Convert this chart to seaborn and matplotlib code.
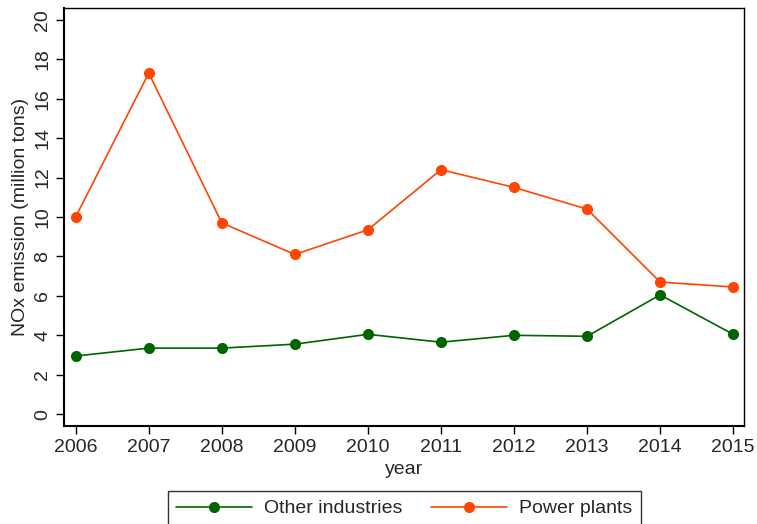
import matplotlib
matplotlib.use("Agg")
import matplotlib.pyplot as plt
import seaborn as sns
import pandas as pd

years = [2006, 2007, 2008, 2009, 2010, 2011, 2012, 2013, 2014, 2015]
other_industries = [2.95, 3.35, 3.35, 3.55, 4.05, 3.65, 4.0, 3.95, 6.05, 4.05]
power_plants = [10.0, 17.3, 9.7, 8.1, 9.35, 12.4, 11.5, 10.4, 6.7, 6.45]
series_names = ["Other industries", "Power plants"]
series_colors = ["#006400", "#ff4500"]
y_ticks = [0, 2, 4, 6, 8, 10, 12, 14, 16, 18, 20]

df = pd.DataFrame({
    "year": years * 2,
    "emission": other_industries + power_plants,
    "source": [series_names[0]] * len(years) + [series_names[1]] * len(years),
})

sns.set_theme(style="white")
plt.rcParams["font.family"] = ["Liberation Sans", "DejaVu Sans"]

FS = 14

fig = plt.figure(figsize=(7.57, 5.24), dpi=100)
ax = fig.add_axes([0.0845, 0.187, 0.8985, 0.7978])

sns.lineplot(
    data=df, x="year", y="emission", hue="source",
    palette=dict(zip(series_names, series_colors)),
    marker="o", markersize=8, markeredgewidth=0,
    linewidth=1.2, ax=ax, legend=False,
)

ax.set_xlim(2005.84, 2015.15)
ax.set_ylim(-0.6, 20.6)
ax.set_xticks(years)
ax.set_xticklabels([str(y) for y in years], fontsize=FS)
ax.set_yticks(y_ticks)
ax.set_yticklabels([str(t) for t in y_ticks], fontsize=FS, rotation=90, va="center")
ax.tick_params(axis="both", direction="out", length=6, width=1, color="black",
               left=True, bottom=True, pad=3)
ax.set_xlabel("year", fontsize=FS, labelpad=4)
ax.set_ylabel("NOx emission (million tons)", fontsize=FS, labelpad=4)

for side in ["left", "bottom", "top", "right"]:
    ax.spines[side].set_color("black")
    ax.spines[side].set_linewidth(1.0)
ax.spines["left"].set_linewidth(1.5)
ax.spines["bottom"].set_linewidth(1.5)

handles = [
    plt.Line2D([0], [0], color=c, linewidth=1.2, marker="o", markersize=8,
               markeredgewidth=0)
    for c in series_colors
]
leg = fig.legend(
    handles, series_names, loc="upper center", bbox_to_anchor=(0.534, 0.063),
    borderaxespad=0, ncol=2, frameon=True, fancybox=False, fontsize=FS,
    handlelength=3.9, handletextpad=0.6, columnspacing=1.5,
    borderpad=0.45, edgecolor="black",
)
leg.get_frame().set_linewidth(1.0)

fig.savefig("out.png", dpi=100)
